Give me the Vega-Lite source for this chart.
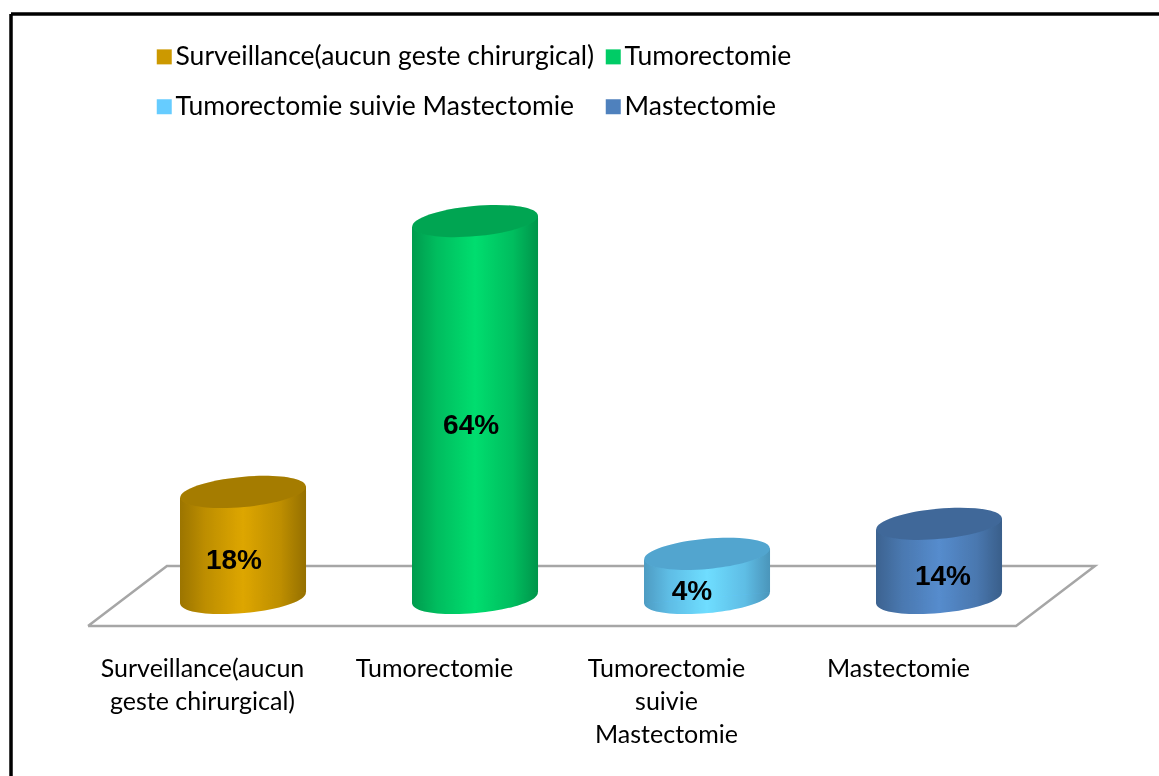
{"$schema":"https://vega.github.io/schema/vega-lite/v6.json","width":1153,"height":762,"autosize":{"type":"none"},"padding":{"left":6,"top":14,"right":0,"bottom":0},"background":"white","view":{"stroke":null},"config":{"font":"Lato"},
"datasets":{"barres":[
{"categorie":"Surveillance(aucun geste chirurgical)","pos":1,"valeur":18,"hauteur":18,"etiquetteX":0.961,"etiquetteY":6.2},
{"categorie":"Tumorectomie","pos":2,"valeur":64,"hauteur":64,"etiquetteX":1.983,"etiquetteY":29.2},
{"categorie":"Tumorectomie suivie  Mastectomie","pos":3,"valeur":4,"hauteur":7.5,"etiquetteX":2.935,"etiquetteY":1.1},
{"categorie":"Mastectomie","pos":4,"valeur":14,"hauteur":12.6,"etiquetteX":4.017,"etiquetteY":3.6}],
"corps":[
{"categorie":"Surveillance(aucun geste chirurgical)","cx":0.7284,"haut":17.04,"bas":-0.96},
{"categorie":"Surveillance(aucun geste chirurgical)","cx":1.2716,"haut":18.96,"bas":0.96},
{"categorie":"Tumorectomie","cx":1.7284,"haut":63.04,"bas":-0.96},
{"categorie":"Tumorectomie","cx":2.2716,"haut":64.96,"bas":0.96},
{"categorie":"Tumorectomie suivie  Mastectomie","cx":2.7284,"haut":6.54,"bas":-0.96},
{"categorie":"Tumorectomie suivie  Mastectomie","cx":3.2716,"haut":8.46,"bas":0.96},
{"categorie":"Mastectomie","cx":3.7284,"haut":11.64,"bas":-0.96},
{"categorie":"Mastectomie","cx":4.2716,"haut":13.56,"bas":0.96}],
"plancher":[{"ordre":1,"px":0.332,"py":-4.75},{"ordre":2,"px":0.672,"py":5.43},{"ordre":3,"px":4.672,"py":5.43},{"ordre":4,"px":4.332,"py":-4.75},{"ordre":5,"px":0.332,"py":-4.75}]},
"data":{"name":"barres"},
"layer":[
{"data":{"name":"plancher"},"mark":{"type":"line","color":"#a6a6a6","strokeWidth":2.5,"strokeJoin":"miter"},"encoding":{
"x":{"field":"px","type":"quantitative","scale":{"domain":[-0.0216,4.9482],"nice":false,"zero":false},
"axis":{"title":null,"values":[1,2,3,4],"domain":false,"ticks":false,"grid":false,"offset":-120,"labelOffset":-41,"labelFontSize":25,"labelColor":"#000000","labelFont":"Lato","labelLineHeight":33,"labelOverlap":false,"labelBound":false,"labelFlush":false,"labelPadding":0,"labelAngle":0,"labelAlign":"center","labelLimit":400,
"labelExpr":"datum.value==1?['Surveillance(aucun','geste chirurgical)']:datum.value==2?'Tumorectomie':datum.value==3?['Tumorectomie','suivie','Mastectomie']:'Mastectomie'"}},
"y":{"field":"py","type":"quantitative","scale":{"domain":[-30.22,99.15],"nice":false,"zero":false},"axis":null},
"order":{"field":"ordre","type":"quantitative"}}},
{"mark":{"type":"point","filled":true,"opacity":1,"size":15876,"shape":"M -0.996 0.09 A 1 0.24 -5.2 1 1 0.996 -0.09 A 1 0.24 -5.2 1 1 -0.996 0.09 Z"},"encoding":{
"x":{"field":"pos","type":"quantitative"},"y":{"datum":0},
"color":{"field":"categorie","type":"nominal","scale":{"domain":["Surveillance(aucun geste chirurgical)","Tumorectomie","Tumorectomie suivie  Mastectomie","Mastectomie"],"range":["#CC9900","#00CC66","#66CCFF","#4F81BD"]},
"legend":{"title":null,"orient":"none","legendX":145,"legendY":29.5,"columns":2,"direction":"horizontal","symbolType":"square","symbolSize":225,"symbolStrokeWidth":0,"symbolOpacity":1,"labelFontSize":26.5,"labelColor":"#000000","labelFont":"Lato","labelOffset":-2,"columnPadding":5,"rowPadding":23,"padding":0,"labelLimit":600}}}},
{"mark":{"type":"point","filled":true,"opacity":1,"blend":"color-dodge","size":15876,"shape":"M -0.996 0.09 A 1 0.24 -5.2 1 1 0.996 -0.09 A 1 0.24 -5.2 1 1 -0.996 0.09 Z","fill":{"x1":0,"y1":0,"x2":1,"y2":0,"gradient":"linear","stops":[{"offset":0,"color":"#000000"},{"offset":0.5,"color":"#141414"},{"offset":1,"color":"#000000"}]}},"encoding":{
"x":{"field":"pos","type":"quantitative"},"y":{"datum":0}}},
{"mark":{"type":"point","filled":true,"opacity":1,"size":15876,"shape":"M -0.996 0.09 A 1 0.24 -5.2 1 1 0.996 -0.09 A 1 0.24 -5.2 1 1 -0.996 0.09 Z","fill":{"x1":0,"y1":0,"x2":1,"y2":0,"gradient":"linear","stops":[{"offset":0,"color":"rgba(0,0,0,0.24)"},{"offset":0.2,"color":"rgba(0,0,0,0.1)"},{"offset":0.5,"color":"rgba(0,0,0,0)"},{"offset":0.8,"color":"rgba(0,0,0,0.1)"},{"offset":1,"color":"rgba(0,0,0,0.27)"}]}},"encoding":{
"x":{"field":"pos","type":"quantitative"},"y":{"datum":0}}},
{"data":{"name":"corps"},"mark":{"type":"area"},"encoding":{
"x":{"field":"cx","type":"quantitative"},"y":{"field":"haut","type":"quantitative"},"y2":{"field":"bas"},
"color":{"field":"categorie","type":"nominal"}}},
{"data":{"name":"corps"},"mark":{"type":"area","blend":"color-dodge","fill":{"x1":0,"y1":0,"x2":1,"y2":0,"gradient":"linear","stops":[{"offset":0,"color":"#000000"},{"offset":0.5,"color":"#141414"},{"offset":1,"color":"#000000"}]}},"encoding":{
"x":{"field":"cx","type":"quantitative"},"y":{"field":"haut","type":"quantitative"},"y2":{"field":"bas"},
"detail":{"field":"categorie"}}},
{"data":{"name":"corps"},"mark":{"type":"area","fill":{"x1":0,"y1":0,"x2":1,"y2":0,"gradient":"linear","stops":[{"offset":0,"color":"rgba(0,0,0,0.24)"},{"offset":0.2,"color":"rgba(0,0,0,0.1)"},{"offset":0.5,"color":"rgba(0,0,0,0)"},{"offset":0.8,"color":"rgba(0,0,0,0.1)"},{"offset":1,"color":"rgba(0,0,0,0.27)"}]}},"encoding":{
"x":{"field":"cx","type":"quantitative"},"y":{"field":"haut","type":"quantitative"},"y2":{"field":"bas"},
"detail":{"field":"categorie"}}},
{"mark":{"type":"point","filled":true,"opacity":1,"size":15876,"shape":"M -0.996 0.09 A 1 0.24 -5.2 1 1 0.996 -0.09 A 1 0.24 -5.2 1 1 -0.996 0.09 Z"},"encoding":{
"x":{"field":"pos","type":"quantitative"},"y":{"field":"hauteur","type":"quantitative"},
"color":{"field":"categorie","type":"nominal"}}},
{"mark":{"type":"point","filled":true,"opacity":0.19,"color":"#000000","size":15876,"shape":"M -0.996 0.09 A 1 0.24 -5.2 1 1 0.996 -0.09 A 1 0.24 -5.2 1 1 -0.996 0.09 Z"},"encoding":{
"x":{"field":"pos","type":"quantitative"},"y":{"field":"hauteur","type":"quantitative"}}},
{"mark":{"type":"text","font":"Liberation Sans","fontWeight":"bold","fontSize":28,"color":"#000000","baseline":"middle","align":"center"},"transform":[{"calculate":"datum.valeur+'%'","as":"texte"}],"encoding":{
"x":{"field":"etiquetteX","type":"quantitative"},"y":{"field":"etiquetteY","type":"quantitative"},"text":{"field":"texte","type":"nominal"}}},
{"data":{"values":[{"haut":99.15,"debut":0,"fin":4.9482}]},"mark":{"type":"rule","color":"#000000","strokeWidth":3.5},"encoding":{"y":{"field":"haut","type":"quantitative"},"x":{"field":"debut","type":"quantitative"},"x2":{"field":"fin"}}},
{"data":{"values":[{"gauche":0}]},"mark":{"type":"rule","color":"#000000","strokeWidth":3.5},"encoding":{"x":{"field":"gauche","type":"quantitative"}}}
]}
